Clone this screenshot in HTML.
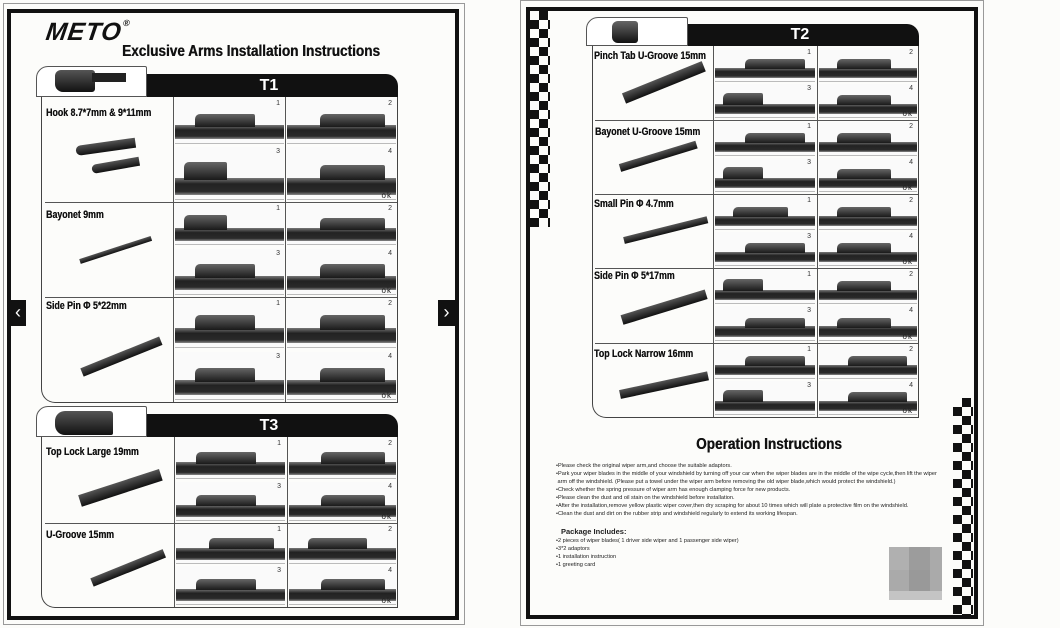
<!DOCTYPE html>
<html><head><meta charset="utf-8"><style>
*{margin:0;padding:0;box-sizing:border-box}
body{width:1060px;height:628px;background:#fcfcfa;position:relative;overflow:hidden;font-family:"Liberation Sans",sans-serif}
.a{position:absolute}
.c{position:absolute;background:#fafafa;overflow:hidden;border-bottom:1px solid #bbb}
.c::before{content:"";position:absolute;left:0;right:0;bottom:8%;height:32%;background:linear-gradient(#777,#222 35%,#2a2a2a 80%,#888);}
.c::after{content:"";position:absolute;left:18%;width:55%;bottom:36%;height:30%;background:linear-gradient(#666,#1a1a1a);border-radius:5px 2px 0 0}
.c.r::after{left:30%;width:60%}
.c.k::after{left:8%;width:40%;height:36%}
.n{position:absolute;right:4px;top:1px;font-size:7px;color:#333;z-index:2}
.ok{position:absolute;right:4px;bottom:-1px;font-size:8px;color:#222;letter-spacing:1px;z-index:2}
.lbl{position:absolute;font-weight:bold;font-size:11px;color:#111;transform:scaleX(.8);transform-origin:left;white-space:nowrap;text-shadow:0.3px 0 0 #111}
.tab{position:absolute;border:1px solid #555;background:#fff;border-radius:12px 2px 0 0}
.hd{position:absolute;background:#111;color:#fff;font-weight:bold;font-size:16px;text-align:center;border-radius:0 12px 0 0}
.tb{position:absolute;border-left:1px solid #444;border-right:1px solid #444;border-bottom:1px solid #444;border-radius:0 0 0 14px}
.hl{position:absolute;height:1px;background:#555}
.vl{position:absolute;width:1px;background:#555}
.ad{position:absolute;background:linear-gradient(#555,#111);transform-origin:left center}
.ck{position:absolute;width:20px;background-image:linear-gradient(45deg,#111 25%,transparent 25%,transparent 75%,#111 75%),linear-gradient(45deg,#111 25%,transparent 25%,transparent 75%,#111 75%);background-size:18px 18px;background-position:0 0,9px 9px}
.tx{position:absolute;left:556px;font-size:5.6px;color:#222;white-space:nowrap;line-height:8.2px}
</style></head><body>

<!-- LEFT PAGE -->
<div class="a" style="left:3px;top:3px;width:462px;height:622px;border:1px solid #999"></div>
<div class="a" style="left:7px;top:9px;width:452px;height:611px;border:4px solid #111"></div>
<div class="a" style="left:46px;top:18px;font-size:25px;font-weight:bold;font-style:italic;letter-spacing:1px;color:#111;transform:skewX(-8deg)">METO<span style="font-size:9px;vertical-align:top">®</span></div>
<div class="a" style="left:122px;top:43px;font-size:16px;font-weight:bold;color:#111;transform:scaleX(.85);transform-origin:left;white-space:nowrap;text-shadow:0.4px 0 0 #111">Exclusive Arms Installation Instructions</div>
<div class="a" style="left:10px;top:300px;width:16px;height:26px;background:#111;color:#fff;font-size:18px;line-height:24px;text-align:center">&lsaquo;</div>
<div class="a" style="left:438px;top:300px;width:17px;height:26px;background:#111;color:#fff;font-size:18px;line-height:24px;text-align:center">&rsaquo;</div>

<!-- T1 -->
<div class="hd" style="left:140px;top:74px;width:258px;height:23px;line-height:23px">T1</div>
<div class="tab" style="left:36px;top:66px;width:111px;height:31px"></div>
<div class="a" style="left:55px;top:70px;width:40px;height:22px;background:linear-gradient(#555,#111);border-radius:6px 3px 3px 8px"></div>
<div class="a" style="left:92px;top:73px;width:34px;height:9px;background:#222"></div>
<div class="tb" style="left:41px;top:97px;width:357px;height:306px"></div>
<div class="vl" style="left:173px;top:97px;height:305px"></div>
<div class="vl" style="left:285px;top:97px;height:305px"></div>
<div class="hl" style="left:45px;top:202px;width:352px"></div>
<div class="hl" style="left:45px;top:297px;width:352px"></div>
<div class="lbl" style="left:46px;top:107px">Hook 8.7*7mm &amp; 9*11mm</div>
<div class="ad" style="left:76px;top:146px;width:60px;height:10px;transform:rotate(-8deg);border-radius:6px 0 0 6px"></div>
<div class="ad" style="left:92px;top:165px;width:48px;height:9px;transform:rotate(-10deg);border-radius:6px 0 0 6px"></div>
<div class="lbl" style="left:46px;top:209px">Bayonet 9mm</div>
<div class="ad" style="left:80px;top:259px;width:75px;height:5px;transform:rotate(-18deg)"></div>
<div class="lbl" style="left:46px;top:300px">Side Pin &Phi; 5*22mm</div>
<div class="ad" style="left:82px;top:368px;width:85px;height:9px;transform:rotate(-22deg)"></div>

<div class="c" style="left:175px;top:99px;width:109px;height:45px"><span class="n">1</span></div>
<div class="c r" style="left:287px;top:99px;width:109px;height:45px"><span class="n">2</span></div>
<div class="c k" style="left:175px;top:147px;width:109px;height:53px"><span class="n">3</span></div>
<div class="c r" style="left:287px;top:147px;width:109px;height:53px"><span class="n">4</span><span class="ok">ok</span></div>
<div class="c k" style="left:175px;top:204px;width:109px;height:41px"><span class="n">1</span></div>
<div class="c r" style="left:287px;top:204px;width:109px;height:41px"><span class="n">2</span></div>
<div class="c" style="left:175px;top:249px;width:109px;height:46px"><span class="n">3</span></div>
<div class="c r" style="left:287px;top:249px;width:109px;height:46px"><span class="n">4</span><span class="ok">ok</span></div>
<div class="c" style="left:175px;top:299px;width:109px;height:49px"><span class="n">1</span></div>
<div class="c r" style="left:287px;top:299px;width:109px;height:49px"><span class="n">2</span></div>
<div class="c" style="left:175px;top:352px;width:109px;height:48px"><span class="n">3</span></div>
<div class="c r" style="left:287px;top:352px;width:109px;height:48px"><span class="n">4</span><span class="ok">ok</span></div>

<!-- T3 -->
<div class="hd" style="left:140px;top:414px;width:258px;height:23px;line-height:23px">T3</div>
<div class="tab" style="left:36px;top:406px;width:111px;height:31px"></div>
<div class="a" style="left:55px;top:411px;width:58px;height:24px;background:linear-gradient(#555,#111);border-radius:10px 3px 2px 10px"></div>
<div class="tb" style="left:41px;top:437px;width:357px;height:171px"></div>
<div class="vl" style="left:174px;top:437px;height:170px"></div>
<div class="vl" style="left:287px;top:437px;height:170px"></div>
<div class="hl" style="left:45px;top:523px;width:352px"></div>
<div class="lbl" style="left:46px;top:446px">Top Lock Large 19mm</div>
<div class="ad" style="left:80px;top:495px;width:85px;height:12px;transform:rotate(-18deg)"></div>
<div class="lbl" style="left:46px;top:529px">U-Groove 15mm</div>
<div class="ad" style="left:92px;top:578px;width:78px;height:9px;transform:rotate(-22deg)"></div>
<div class="c" style="left:176px;top:439px;width:109px;height:40px"><span class="n">1</span></div>
<div class="c r" style="left:289px;top:439px;width:107px;height:40px"><span class="n">2</span></div>
<div class="c" style="left:176px;top:482px;width:109px;height:39px"><span class="n">3</span></div>
<div class="c r" style="left:289px;top:482px;width:107px;height:39px"><span class="n">4</span><span class="ok">ok</span></div>
<div class="c r" style="left:176px;top:525px;width:109px;height:39px"><span class="n">1</span></div>
<div class="c" style="left:289px;top:525px;width:107px;height:39px"><span class="n">2</span></div>
<div class="c" style="left:176px;top:566px;width:109px;height:39px"><span class="n">3</span></div>
<div class="c r" style="left:289px;top:566px;width:107px;height:39px"><span class="n">4</span><span class="ok">ok</span></div>

<!-- RIGHT PAGE -->
<div class="a" style="left:520px;top:0px;width:464px;height:626px;border:1px solid #999"></div>
<div class="a" style="left:526px;top:7px;width:452px;height:612px;border:4px solid #111"></div>
<div class="ck" style="left:530px;top:11px;height:216px"></div>
<div class="ck" style="left:953px;top:398px;height:217px"></div>

<div class="hd" style="left:681px;top:24px;width:238px;height:22px;line-height:22px">T2</div>
<div class="tab" style="left:586px;top:17px;width:102px;height:29px"></div>
<div class="a" style="left:612px;top:21px;width:26px;height:22px;background:linear-gradient(#666,#111);border-radius:6px 3px 3px 6px"></div>
<div class="tb" style="left:592px;top:46px;width:327px;height:372px"></div>
<div class="vl" style="left:713px;top:46px;height:371px"></div>
<div class="vl" style="left:817px;top:46px;height:371px"></div>
<div class="hl" style="left:595px;top:120px;width:323px"></div>
<div class="hl" style="left:595px;top:194px;width:323px"></div>
<div class="hl" style="left:595px;top:268px;width:323px"></div>
<div class="hl" style="left:595px;top:343px;width:323px"></div>
<div class="lbl" style="left:594px;top:50px">Pinch Tab U-Groove 15mm</div>
<div class="ad" style="left:624px;top:93px;width:86px;height:11px;transform:rotate(-22deg)"></div>
<div class="lbl" style="left:595px;top:126px">Bayonet U-Groove 15mm</div>
<div class="ad" style="left:620px;top:164px;width:80px;height:8px;transform:rotate(-17deg)"></div>
<div class="lbl" style="left:594px;top:198px">Small Pin &Phi; 4.7mm</div>
<div class="ad" style="left:624px;top:237px;width:86px;height:7px;transform:rotate(-14deg)"></div>
<div class="lbl" style="left:594px;top:270px">Side Pin &Phi; 5*17mm</div>
<div class="ad" style="left:622px;top:315px;width:88px;height:10px;transform:rotate(-17deg)"></div>
<div class="lbl" style="left:594px;top:348px">Top Lock Narrow 16mm</div>
<div class="ad" style="left:620px;top:390px;width:90px;height:9px;transform:rotate(-12deg)"></div>

<div class="c r" style="left:715px;top:48px;width:100px;height:34px"><span class="n">1</span></div>
<div class="c" style="left:819px;top:48px;width:98px;height:34px"><span class="n">2</span></div>
<div class="c k" style="left:715px;top:84px;width:100px;height:34px"><span class="n">3</span></div>
<div class="c" style="left:819px;top:84px;width:98px;height:34px"><span class="n">4</span><span class="ok">ok</span></div>
<div class="c r" style="left:715px;top:122px;width:100px;height:34px"><span class="n">1</span></div>
<div class="c" style="left:819px;top:122px;width:98px;height:34px"><span class="n">2</span></div>
<div class="c k" style="left:715px;top:158px;width:100px;height:34px"><span class="n">3</span></div>
<div class="c" style="left:819px;top:158px;width:98px;height:34px"><span class="n">4</span><span class="ok">ok</span></div>
<div class="c" style="left:715px;top:196px;width:100px;height:34px"><span class="n">1</span></div>
<div class="c" style="left:819px;top:196px;width:98px;height:34px"><span class="n">2</span></div>
<div class="c r" style="left:715px;top:232px;width:100px;height:34px"><span class="n">3</span></div>
<div class="c" style="left:819px;top:232px;width:98px;height:34px"><span class="n">4</span><span class="ok">ok</span></div>
<div class="c k" style="left:715px;top:270px;width:100px;height:34px"><span class="n">1</span></div>
<div class="c" style="left:819px;top:270px;width:98px;height:34px"><span class="n">2</span></div>
<div class="c r" style="left:715px;top:306px;width:100px;height:35px"><span class="n">3</span></div>
<div class="c" style="left:819px;top:306px;width:98px;height:35px"><span class="n">4</span><span class="ok">ok</span></div>
<div class="c r" style="left:715px;top:345px;width:100px;height:34px"><span class="n">1</span></div>
<div class="c r" style="left:819px;top:345px;width:98px;height:34px"><span class="n">2</span></div>
<div class="c k" style="left:715px;top:381px;width:100px;height:34px"><span class="n">3</span></div>
<div class="c r" style="left:819px;top:381px;width:98px;height:34px"><span class="n">4</span><span class="ok">ok</span></div>

<div class="a" style="left:696px;top:436px;font-size:16px;font-weight:bold;color:#111;transform:scaleX(.85);transform-origin:left;white-space:nowrap;text-shadow:0.4px 0 0 #111">Operation Instructions</div>
<div class="tx" style="top:462px">&bull;Please check the original wiper arm,and choose the suitable adaptors.</div>
<div class="tx" style="top:470px">&bull;Park your wiper blades in the middle of your windshield by turning off your car when the wiper blades are in the middle of the wipe cycle,then lift the wiper</div>
<div class="tx" style="top:478px">&nbsp;arm off the windshield. (Please put a towel under the wiper arm before removing the old wiper blade,which would protect the windshield.)</div>
<div class="tx" style="top:486px">&bull;Check whether the spring pressure of wiper arm has enough clamping force for new products.</div>
<div class="tx" style="top:494px">&bull;Please clean the dust and oil stain on the windshield before installation.</div>
<div class="tx" style="top:502px">&bull;After the installation,remove yellow plastic wiper cover,then dry scraping for about 10 times which will plate a protective film on the windshield.</div>
<div class="tx" style="top:510px">&bull;Clean the dust and dirt on the rubber strip and windshield regularly to extend its working lifespan.</div>
<div class="a" style="left:561px;top:527px;font-size:7.5px;font-weight:bold;color:#222">Package Includes:</div>
<div class="tx" style="top:537px">&bull;2 pieces of wiper blades( 1 driver side wiper and 1 passenger side wiper)</div>
<div class="tx" style="top:545px">&bull;3*2 adaptors</div>
<div class="tx" style="top:553px">&bull;1 installation instruction</div>
<div class="tx" style="top:561px">&bull;1 greeting card</div>
<div class="a" style="left:889px;top:547px;width:53px;height:53px;background:#aaa">
 <div class="a" style="left:0;top:0;width:20px;height:23px;background:#b0b0b0"></div>
 <div class="a" style="left:20px;top:0;width:21px;height:23px;background:#9c9c9c"></div>
 <div class="a" style="left:20px;top:23px;width:21px;height:21px;background:#999"></div>
 <div class="a" style="left:0;top:44px;width:53px;height:9px;background:#c4c4c4"></div>
</div>
</body></html>
